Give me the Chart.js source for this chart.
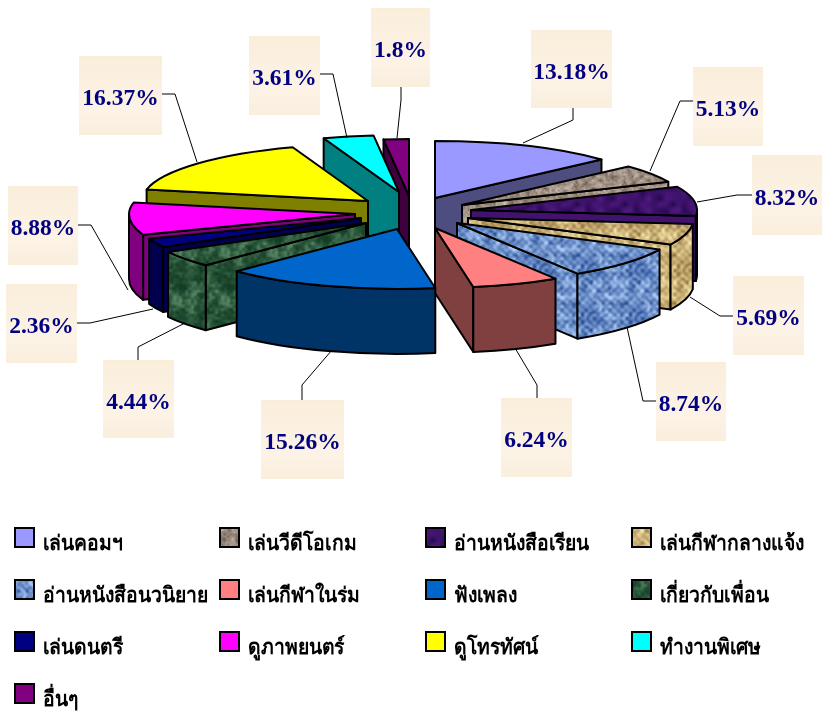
<!DOCTYPE html>
<html><head><meta charset="utf-8">
<style>html,body{margin:0;padding:0;background:#fff}canvas{display:block}</style>
<script src="https://cdn.jsdelivr.net/npm/chart.js@4/dist/chart.umd.min.js"></script>
</head><body><canvas id="c" width="829" height="711"></canvas>
<script>
const categories = ['เล่นคอมฯ','เล่นวีดีโอเกม','อ่านหนังสือเรียน','เล่นกีฬากลางแจ้ง','อ่านหนังสือนวนิยาย','เล่นกีฬาในร่ม','ฟังเพลง','เกี่ยวกับเพื่อน','เล่นดนตรี','ดูภาพยนตร์','ดูโทรทัศน์','ทำงานพิเศษ','อื่นๆ'];
const values = [13.18,5.13,8.32,5.69,8.74,6.24,15.26,4.44,2.36,8.88,16.37,3.61,1.8];

// styling
const topColors  = ['#9999FF','#B5A294','#42126F','#DCC388','#7F9FD9','#FF8080','#0066CC','#2A5A3A','#000080','#FF00FF','#FFFF00','#00FFFF','#800080'];
const sideColors = ['#4D4D80','#A08C7C','#2A0A48','#D8BE84','#7595CF','#804040','#003366','#2A5A3A','#00004D','#800080','#808000','#008080','#400040'];
const outerSide  = [null,null,'#0A0410',null,null,null,null,null,null,null,null,null,null];
const textures   = [null,'granite','mottle','weaveTan','weaveBlue',null,null,'marble',null,null,null,null,null];
const explodeX = [20.5,47.5,56.5,53.5,42.5,20.5,-17.5,-48.5,-53.5,-59.5,-46.5,-15.5,-5.5];
const explodeY = [-10,-3,2,10,15,20,21,15,10,6,-7,-16,-12];
const RADIUS = 226, TILT_FRONT = 0.265, TILT_BACK = 0.252, DEPTH = 65;
const labelBoxes = [[531,30,81,78],[693,67,70,79],[752,155,70,80],[733,276,71,79],[656,362,70,79],[501,398,71,79],[261,400,83,79],[103,360,71,78],[6,284,71,79],[8,186,70,79],[79,56,83,79],[249,36,71,79],[371,8,59,79]];
const leaders = [
 [[573,108],[573,120],[523,143]],[[693,101],[680,101],[650,171]],[[752,195],[737,195],[697,202]],
 [[733,316],[720,316],[690,297]],[[656,401],[643,401],[627,327]],[[537,398],[537,385],[515,348]],
 [[302,400],[302,385],[332,350]],[[138,360],[138,347],[185,323]],[[77,323],[90,323],[153,309]],
 [[78,225],[91,225],[128,290]],[[162,94],[175,94],[197,162]],[[320,74],[333,74],[347,138]],[[401,87],[401,100],[397,138]]
];
const legendCols = [15,220,426,632], legendRowStart = 528, legendRowStep = 52;

function hash(x,y,s){let h=(x*374761393+y*668265263+s*2147483647)|0;h=Math.imul(h^(h>>>13),1274126177);return ((h^(h>>>16))>>>0)/4294967296;}
function smooth(x,y,cell,size,s){
  const x0=Math.floor(x/cell),y0=Math.floor(y/cell),n=Math.round(size/cell);
  const fx=x/cell-x0,fy=y/cell-y0;
  const g=(a,b)=>hash(((a%n)+n)%n,((b%n)+n)%n,s);
  const l=(a,b,t)=>a+(b-a)*t;
  return l(l(g(x0,y0),g(x0+1,y0),fx),l(g(x0,y0+1),g(x0+1,y0+1),fx),fy);
}
function makeTile(kind){
  const size=48,t=document.createElement('canvas');t.width=t.height=size;
  const g=t.getContext('2d'),img=g.createImageData(size,size);
  const palette={granite:[[96,78,66],[214,200,188]],mottle:[[38,8,80],[84,28,132]],
    weaveTan:[[150,118,62],[250,232,172]],weaveBlue:[[40,78,150],[172,204,246]],marble:[[14,56,32],[120,170,130]]}[kind];
  for(let y=0;y<size;y++)for(let x=0;x<size;x++){
    let v;
    if(kind==='granite') v=0.45*smooth(x,y,2,size,1)+0.55*smooth(x,y,4,size,2);
    else if(kind==='mottle') v=smooth(x,y,6,size,3);
    else if(kind==='marble'){v=0.6*smooth(x,y,8,size,4)+0.4*smooth(x,y,3,size,5);v=Math.pow(v,2.0);}
    else {
      const n1=smooth(x,y,3,size,6),n2=smooth(x,y,8,size,7);
      const wave=0.5+0.5*Math.sin(x*Math.PI/4)*Math.sin(y*Math.PI/4);
      v=0.25*wave+0.4*n1+0.45*n2;
      v=Math.min(1,Math.max(0,(v-0.2)*1.5));
    }
    const i=(y*size+x)*4;
    for(let c=0;c<3;c++) img.data[i+c]=palette[0][c]+(palette[1][c]-palette[0][c])*v;
    img.data[i+3]=255;
  }
  g.putImageData(img,0,0);return t;
}
const tiles={};
function fillFor(ctx,i,side){
  const k=textures[i];
  if(side && outerSide[i]) return side==='outer'?outerSide[i]:'#42126F';
  if(!k) return side?sideColors[i]:topColors[i];
  if(!tiles[k]) tiles[k]=makeTile(k);
  return ctx.createPattern(tiles[k],'repeat');
}

const pie3d={
  id:'pie3d',
  beforeDatasetsDraw(chart){
    const ctx=chart.ctx, arcs=chart.getDatasetMeta(0).data;
    const order=arcs.map((a,i)=>{
      const p=a.getProps(['startAngle','endAngle']);
      return {i,m:(p.startAngle+p.endAngle)/2};
    }).sort((a,b)=>Math.sin(a.m)-Math.sin(b.m));
    ctx.save();ctx.lineWidth=2;ctx.strokeStyle='#000';ctx.lineJoin='round';
    for(const {i} of order){
      const p=arcs[i].getProps(['x','y','startAngle','endAngle','outerRadius']);
      const ax=p.x+explodeX[i], ay=p.y+explodeY[i], R=p.outerRadius;
      const Ry=R*TILT_FRONT, Rb=R*TILT_BACK;
      const P=a=>[ax+R*Math.cos(a),ay+(Math.sin(a)>0?Ry:Rb)*Math.sin(a)];
      const wall=a=>{
        const q=P(a);ctx.beginPath();ctx.moveTo(ax,ay);ctx.lineTo(q[0],q[1]);ctx.lineTo(q[0],q[1]+DEPTH);ctx.lineTo(ax,ay+DEPTH);ctx.closePath();
        ctx.fillStyle=fillFor(ctx,i,'wall');ctx.fill();ctx.stroke();
      };
      if(Math.cos(p.startAngle)<-1e-6) wall(p.startAngle);
      if(Math.cos(p.endAngle)>1e-6) wall(p.endAngle);
      const a0=Math.max(p.startAngle,0),a1=Math.min(p.endAngle,Math.PI);
      if(a1>a0){
        ctx.beginPath();ctx.ellipse(ax,ay,R,Ry,0,a0,a1);
        ctx.ellipse(ax,ay+DEPTH,R,Ry,0,a1,a0,true);ctx.closePath();
        ctx.fillStyle=fillFor(ctx,i,'outer');ctx.fill();ctx.stroke();
      }
      // top face: front part and back part of the rim use slightly different tilt (perspective)
      ctx.beginPath();ctx.moveTo(ax,ay);
      const breaks=[-Math.PI/2,0,Math.PI,1.5*Math.PI];
      for(let b=0;b<3;b++){
        const s=Math.max(p.startAngle,breaks[b]),e=Math.min(p.endAngle,breaks[b+1]);
        if(e>s) ctx.ellipse(ax,ay,R,b===1?Ry:Rb,0,s,e);
      }
      ctx.closePath();
      ctx.fillStyle=fillFor(ctx,i,null);ctx.fill();ctx.stroke();
    }
    ctx.restore();
    return false;
  },
  afterDraw(chart){
    const ctx=chart.ctx;ctx.save();
    ctx.strokeStyle='#000';ctx.lineWidth=1;
    leaders.forEach(l=>{ctx.beginPath();l.forEach((q,j)=>j?ctx.lineTo(q[0],q[1]):ctx.moveTo(q[0],q[1]));ctx.stroke();});
    values.forEach((v,i)=>{
      const [x,y,w,h]=labelBoxes[i];
      const g=ctx.createLinearGradient(0,y,0,y+h);
      g.addColorStop(0,'#FAEEDB');g.addColorStop(0.7,'#FCF3E6');g.addColorStop(1,'#FAEEDC');
      ctx.fillStyle=g;ctx.fillRect(x,y,w,h);
      ctx.fillStyle='#000080';ctx.font='bold 23.5px "Liberation Serif"';ctx.textAlign='center';ctx.textBaseline='middle';
      ctx.fillText(v+'%',x+w/2,y+h/2+3.5);
    });
    ctx.textAlign='left';ctx.textBaseline='alphabetic';
    categories.forEach((c,i)=>{
      const col=legendCols[i%4],y=legendRowStart+legendRowStep*Math.floor(i/4);
      ctx.fillStyle=fillFor(ctx,i,null);ctx.fillRect(col,y,19,19);
      ctx.strokeStyle='#000';ctx.lineWidth=2;ctx.strokeRect(col,y,19,19);
      ctx.fillStyle='#000';ctx.font='bold 21px "Liberation Serif","Noto Sans",sans-serif';
      ctx.save();ctx.translate(col+28,y+22);ctx.scale(0.92,1);ctx.fillText(c,0,0);ctx.restore();
    });
    ctx.restore();
  }
};

new Chart(document.getElementById('c'),{
  type:'pie',
  data:{labels:categories,datasets:[{data:values,backgroundColor:topColors,radius:RADIUS}]},
  options:{responsive:false,animation:false,layout:{padding:{bottom:295}},
    plugins:{legend:{display:false},tooltip:{enabled:false}}},
  plugins:[pie3d]
});
</script></body></html>
